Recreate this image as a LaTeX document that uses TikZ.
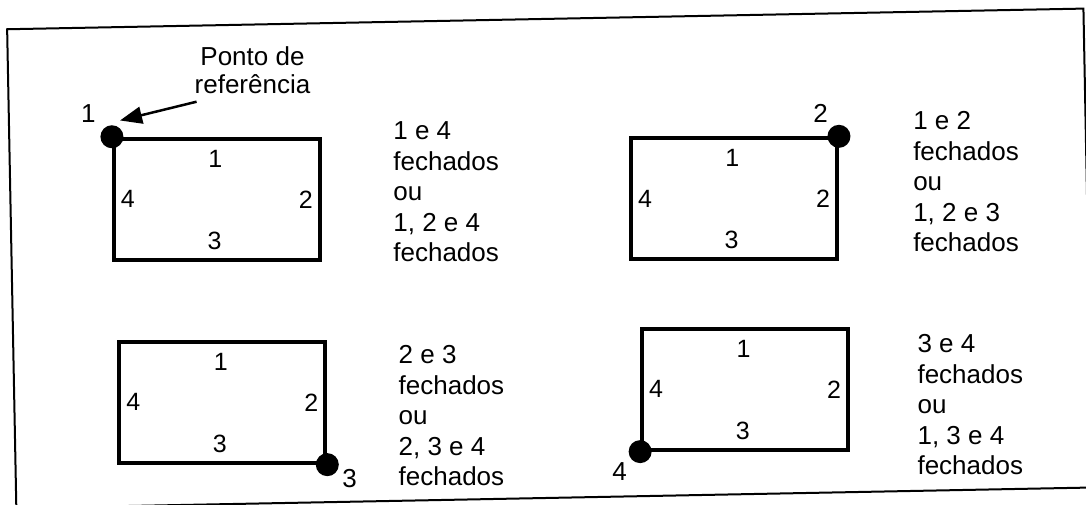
\documentclass[tikz,border=0pt]{standalone}
\usepackage{fontspec}
\setmainfont{Liberation Sans}
\usetikzlibrary{arrows.meta}

\begin{document}
\begin{tikzpicture}[x=1pt, y=-1pt,
frame/.style={draw, line width=2pt},
box/.style={draw, line width=4pt, minimum width=206pt, minimum height=121pt, inner sep=0pt},
corner/.style={circle, fill, inner sep=0pt, minimum size=23pt},
num/.style={inner sep=0pt, font={\fontsize{25}{25}\selectfont}},
note/.style={inner sep=0pt, align=left, anchor=base west, font={\fontsize{26}{30.5}\selectfont}},
pointer/.style={-{Triangle[length=22pt, width=17pt]}, line width=2.5pt}
]
\useasboundingbox (0,0) rectangle (1086,504);
\clip (0,0) rectangle (1086,504);
% the whole sheet sits a little turned
\begin{scope}[rotate around={1.1:(543,252)}]
\draw[frame] (11.5,19) rectangle (1088,498);

% the four boxes with their side numbers
\node[box] (b1) at (218,193) {};
\node[box] (b2) at (735,202.5) {};
\node[box] (b3) at (219.5,396) {};
\node[box] (b4) at (742.5,393) {};
\foreach \b in {b1,b2,b3,b4} {
  \node[num] (\b-top) at ([xshift=-2pt, yshift=-22pt]\b.north) {1};
  \node[num] (\b-right) at ([xshift=-16pt]\b.east) {2};
  \node[num] (\b-bottom) at ([xshift=-2pt, yshift=21pt]\b.south) {3};
  \node[num] (\b-left) at ([xshift=16pt]\b.west) {4};
}

% reference corners
\node[corner] (d1) at (b1.north west) {};
\node[corner] (d2) at (b2.north east) {};
\node[corner] (d3) at (b3.south east) {};
\node[corner] (d4) at (b4.south west) {};
\node[num, font={\fontsize{26}{26}\selectfont}] (n1) at ([shift={(-23pt,24pt)}]d1) {1};
\node[num, font={\fontsize{26}{26}\selectfont}] (n2) at ([shift={(-18pt,23pt)}]d2) {2};
\node[num, font={\fontsize{26}{26}\selectfont}] (n3) at ([shift={(22pt,-14pt)}]d3) {3};
\node[num, font={\fontsize{26}{26}\selectfont}] (n4) at ([shift={(-21pt,-20pt)}]d4) {4};

\node[inner sep=2pt, align=center, font={\fontsize{26}{28}\selectfont}] (ref) at (256,64.5) {Ponto de\\referência};
\draw[pointer] ([shift={(4pt,-6pt)}]ref.south west) -- ([yshift=8pt]d1.north east);

% which sides are closed (anchored on the last line)
\node[note] (t1) at (393,259) {1 e 4\\fechados\\ou\\1, 2 e 4\\fechados};
\node[note] (t2) at (913,259) {1 e 2\\fechados\\ou\\1, 2 e 3\\fechados};
\node[note] (t3) at (394,483) {2 e 3\\fechados\\ou\\2, 3 e 4\\fechados};
\node[note] (t4) at (913,482) {3 e 4\\fechados\\ou\\1, 3 e 4\\fechados};
\end{scope}
\end{tikzpicture}
\end{document}
